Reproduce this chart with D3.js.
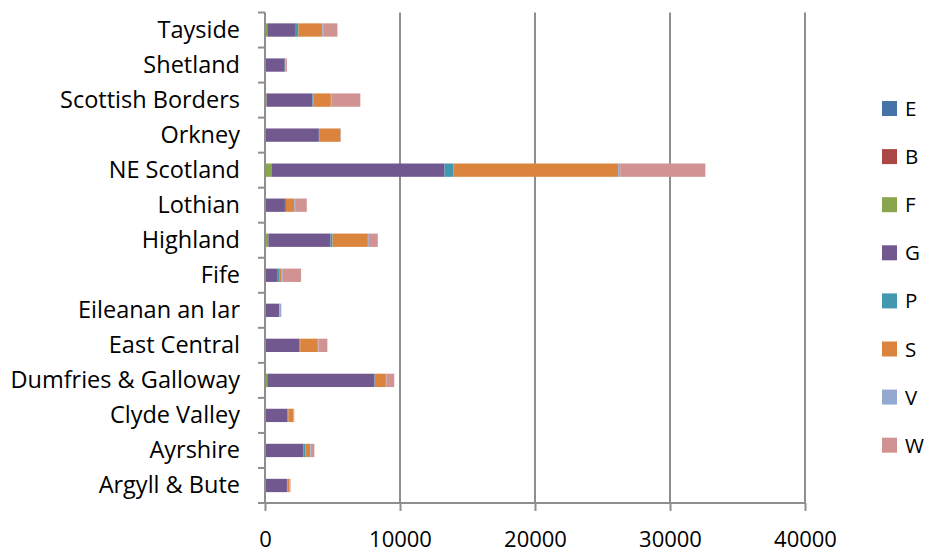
<!DOCTYPE html>
<html>
<head>
<meta charset="utf-8">
<script src="https://cdn.jsdelivr.net/npm/d3@7"></script>
<style>
  html, body { margin: 0; padding: 0; background: #fff; }
  svg { display: block; font-family: "Open Sans", "Noto Sans", sans-serif; }
</style>
</head>
<body>
<svg id="chart" width="930" height="552"></svg>
<script>
// Regions (alphabetical; drawn bottom to top)
const regions = ["Argyll & Bute", "Ayrshire", "Clyde Valley", "Dumfries & Galloway",
  "East Central", "Eileanan an Iar", "Fife", "Highland", "Lothian", "NE Scotland",
  "Orkney", "Scottish Borders", "Shetland", "Tayside"];

// Series keys and colours
const seriesKeys = ["E", "B", "F", "G", "P", "S", "V", "W"];
const seriesColors = ["#4572A7", "#AA4643", "#89A54E", "#71588F", "#4198AF", "#DB843D", "#93A9CF", "#D19392"];

// Values per series, in region order
const valuesE = [0, 0, 0, 0, 0, 0, 0, 0, 0, 0, 0, 0, 0, 0];
const valuesB = [0, 0, 0, 0, 0, 0, 0, 0, 0, 0, 0, 0, 0, 0];
const valuesF = [20, 30, 20, 170, 30, 10, 30, 245, 20, 520, 20, 120, 10, 170];
const valuesG = [1605, 2810, 1630, 7940, 2515, 1035, 865, 4610, 1455, 12780, 3970, 3400, 1455, 2050];
const valuesP = [20, 150, 75, 30, 60, 20, 150, 150, 80, 670, 20, 80, 20, 250];
const valuesS = [150, 370, 370, 815, 1310, 20, 150, 2615, 615, 12190, 1580, 1280, 20, 1775];
const valuesV = [20, 50, 20, 30, 40, 100, 120, 70, 60, 150, 20, 60, 40, 60];
const valuesW = [75, 245, 50, 590, 665, 20, 1355, 665, 865, 6310, 20, 2120, 80, 1060];

const xTicks = [0, 10000, 20000, 30000, 40000];

const seriesValues = { E: valuesE, B: valuesB, F: valuesF, G: valuesG, P: valuesP, S: valuesS, V: valuesV, W: valuesW };
const table = regions.map((r, i) => {
  const row = { region: r };
  seriesKeys.forEach(k => { row[k] = seriesValues[k][i]; });
  return row;
});

const svg = d3.select("#chart");
const plotLeft = 265, plotRight = 805, plotTop = 12.5, plotBottom = 503;
const fontStack = "'Open Sans', 'Noto Sans', sans-serif";

const x = d3.scaleLinear().domain([0, 40000]).range([plotLeft, plotRight]);
const y = d3.scaleBand().domain(regions.slice().reverse()).range([plotTop, plotBottom]).paddingInner(0.62).paddingOuter(0.31);
const color = d3.scaleOrdinal().domain(seriesKeys).range(seriesColors);

const gridColor = "#8e8e8e";

// Vertical gridlines
svg.append("g")
  .selectAll("line")
  .data(xTicks.slice(1))
  .join("line")
  .attr("x1", d => x(d)).attr("x2", d => x(d))
  .attr("y1", plotTop).attr("y2", plotBottom)
  .attr("stroke", gridColor).attr("stroke-width", 2);

// Stacked bars
const stacked = d3.stack().keys(seriesKeys)(table);
svg.append("g")
  .selectAll("g")
  .data(stacked)
  .join("g")
  .attr("fill", d => color(d.key))
  .selectAll("rect")
  .data(d => d)
  .join("rect")
  .attr("x", d => x(d[0]))
  .attr("width", d => Math.max(0, x(d[1]) - x(d[0])))
  .attr("y", d => y(d.data.region))
  .attr("height", y.bandwidth());

// X axis
const xAxis = svg.append("g")
  .attr("transform", `translate(0,${plotBottom})`)
  .call(d3.axisBottom(x).tickValues(xTicks).tickFormat(d3.format("d")).tickSize(8).tickSizeOuter(0));
xAxis.select(".domain").attr("stroke", gridColor).attr("stroke-width", 2)
  .attr("d", `M${plotLeft - 6},0H${plotRight}`);
xAxis.selectAll(".tick line").attr("stroke", gridColor).attr("stroke-width", 2);
xAxis.selectAll(".tick text")
  .attr("y", 28)
  .attr("fill", "#000")
  .style("font-size", "22px")
  .style("font-family", fontStack);

// Y axis (category)
const yAxis = svg.append("g")
  .attr("transform", `translate(${plotLeft},0)`)
  .call(d3.axisLeft(y).tickSize(0).tickPadding(25));
yAxis.select(".domain").attr("stroke", gridColor).attr("stroke-width", 2)
  .attr("d", `M0,${plotTop}V${plotBottom}`);
yAxis.selectAll(".tick text")
  .attr("fill", "#000")
  .style("font-size", "23.5px")
  .style("font-family", fontStack);

// Category boundary ticks
const step = (plotBottom - plotTop) / regions.length;
svg.append("g")
  .selectAll("line")
  .data(d3.range(regions.length + 1))
  .join("line")
  .attr("x1", plotLeft - 7).attr("x2", plotLeft)
  .attr("y1", i => plotTop + i * step).attr("y2", i => plotTop + i * step)
  .attr("stroke", gridColor).attr("stroke-width", 2);

// Legend
const legend = svg.append("g").attr("transform", "translate(882,101)");
const item = legend.selectAll("g")
  .data(seriesKeys)
  .join("g")
  .attr("transform", (d, i) => `translate(0,${i * 48.1})`);
item.append("rect")
  .attr("width", 15).attr("height", 15)
  .attr("fill", d => color(d));
item.append("text")
  .attr("x", 23).attr("y", 15)
  .style("font-size", "20.5px")
  .style("font-family", fontStack)
  .attr("fill", "#000")
  .text(d => d);
</script>
</body>
</html>
